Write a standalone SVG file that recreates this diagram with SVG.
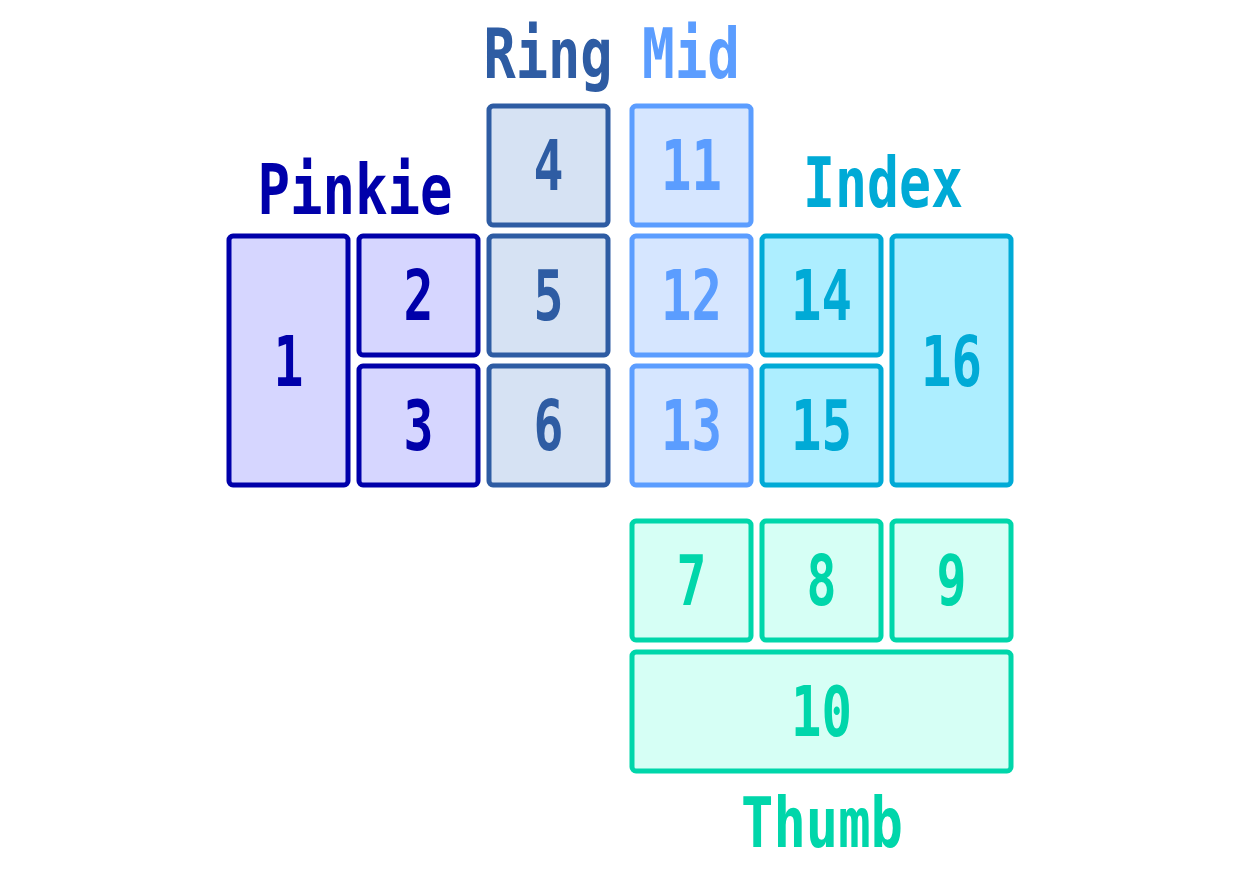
<svg xmlns="http://www.w3.org/2000/svg" width="1240" height="874" viewBox="0 0 1240 874">
<style>
text{font-family:"DejaVu Sans Mono","Liberation Mono",monospace;font-weight:bold;font-size:70px;text-anchor:middle}
rect{stroke-width:5}
.pk rect{fill:#D6D6FF;stroke:#0000AA}.pk text{fill:#0000AA}
.rg rect{fill:#D6E2F3;stroke:#2E5CA3}.rg text{fill:#2E5CA3}
.md rect{fill:#D6E6FF;stroke:#5B9DFF}.md text{fill:#5B9DFF}
.ix rect{fill:#ADEEFF;stroke:#00AAD6}.ix text{fill:#00AAD6}
.th rect{fill:#D6FFF5;stroke:#00D6AA}.th text{fill:#00D6AA}
</style>
<rect width="1240" height="874" fill="#fff" style="stroke:none"/>
<g id="labels">
<text x="355" y="214" textLength="195" lengthAdjust="spacingAndGlyphs" fill="#0000AA">Pinkie</text>
<text x="548" y="78" textLength="129" lengthAdjust="spacingAndGlyphs" fill="#2E5CA3">Ring</text>
<text x="691" y="78" textLength="98" lengthAdjust="spacingAndGlyphs" fill="#5B9DFF">Mid</text>
<text x="883" y="207" textLength="160" lengthAdjust="spacingAndGlyphs" fill="#00AAD6">Index</text>
<text x="822" y="847" textLength="162" lengthAdjust="spacingAndGlyphs" fill="#00D6AA">Thumb</text>
</g>
<g class="pk">
<g id="k1"><rect x="229" y="236" width="119" height="249" rx="4"/><text x="288.5" y="386" textLength="30" lengthAdjust="spacingAndGlyphs">1</text></g>
<g id="k2"><rect x="359" y="236" width="119" height="119" rx="4"/><text x="418.5" y="320" textLength="30" lengthAdjust="spacingAndGlyphs">2</text></g>
<g id="k3"><rect x="359" y="366" width="119" height="119" rx="4"/><text x="418.5" y="450" textLength="30" lengthAdjust="spacingAndGlyphs">3</text></g>
</g>
<g class="rg">
<g id="k4"><rect x="489" y="106" width="119" height="119" rx="4"/><text x="548.5" y="190" textLength="30" lengthAdjust="spacingAndGlyphs">4</text></g>
<g id="k5"><rect x="489" y="236" width="119" height="119" rx="4"/><text x="548.5" y="320" textLength="30" lengthAdjust="spacingAndGlyphs">5</text></g>
<g id="k6"><rect x="489" y="366" width="119" height="119" rx="4"/><text x="548.5" y="450" textLength="30" lengthAdjust="spacingAndGlyphs">6</text></g>
</g>
<g class="md">
<g id="k11"><rect x="632" y="106" width="119" height="119" rx="4"/><text x="691.5" y="190" textLength="61" lengthAdjust="spacingAndGlyphs">11</text></g>
<g id="k12"><rect x="632" y="236" width="119" height="119" rx="4"/><text x="691.5" y="320" textLength="61" lengthAdjust="spacingAndGlyphs">12</text></g>
<g id="k13"><rect x="632" y="366" width="119" height="119" rx="4"/><text x="691.5" y="450" textLength="61" lengthAdjust="spacingAndGlyphs">13</text></g>
</g>
<g class="ix">
<g id="k14"><rect x="762" y="236" width="119" height="119" rx="4"/><text x="821.5" y="320" textLength="61" lengthAdjust="spacingAndGlyphs">14</text></g>
<g id="k15"><rect x="762" y="366" width="119" height="119" rx="4"/><text x="821.5" y="450" textLength="61" lengthAdjust="spacingAndGlyphs">15</text></g>
<g id="k16"><rect x="892" y="236" width="119" height="249" rx="4"/><text x="951.5" y="386" textLength="61" lengthAdjust="spacingAndGlyphs">16</text></g>
</g>
<g class="th">
<g id="k7"><rect x="632" y="521" width="119" height="119" rx="4"/><text x="691.5" y="605" textLength="30" lengthAdjust="spacingAndGlyphs">7</text></g>
<g id="k8"><rect x="762" y="521" width="119" height="119" rx="4"/><text x="821.5" y="605" textLength="30" lengthAdjust="spacingAndGlyphs">8</text></g>
<g id="k9"><rect x="892" y="521" width="119" height="119" rx="4"/><text x="951.5" y="605" textLength="30" lengthAdjust="spacingAndGlyphs">9</text></g>
<g id="k10"><rect x="632" y="652" width="379" height="119" rx="4"/><text x="821.5" y="736" textLength="61" lengthAdjust="spacingAndGlyphs">10</text></g>
</g>
<g id="connectors"/>
</svg>
